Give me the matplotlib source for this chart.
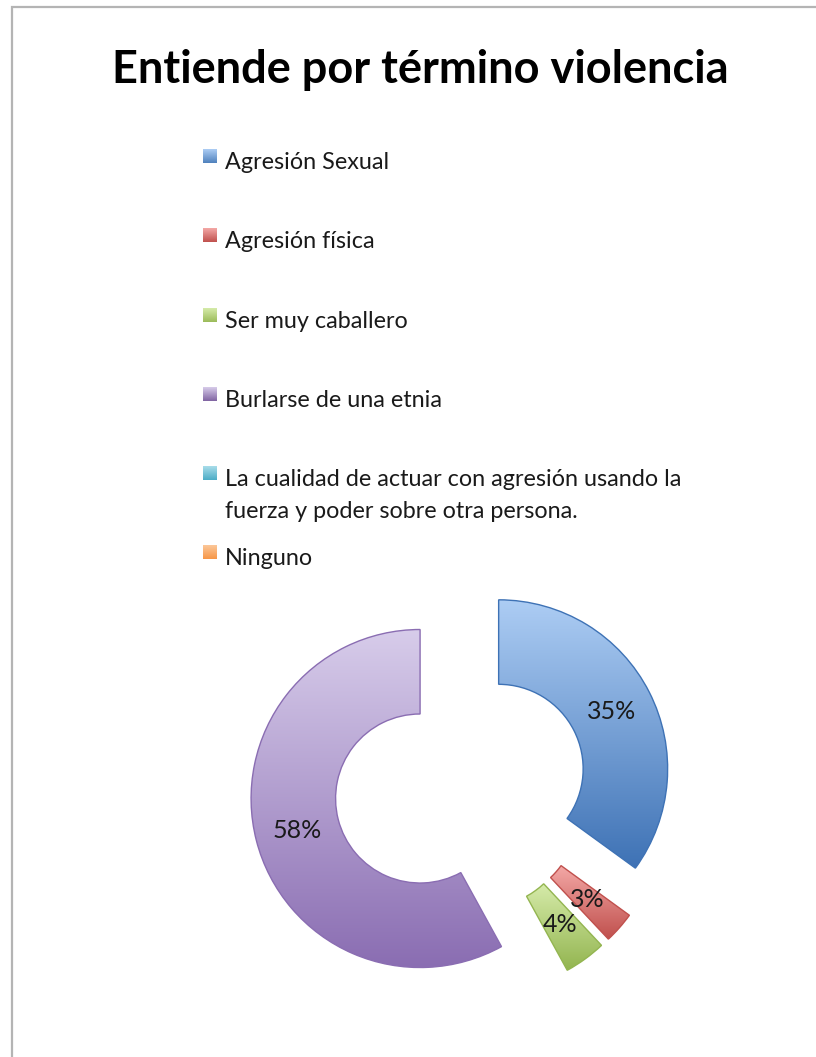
import numpy as np
import matplotlib
matplotlib.use("Agg")
import matplotlib.pyplot as plt
from matplotlib.colors import to_rgb
from matplotlib.patches import Rectangle

plt.rcParams['font.family'] = ['Lato', 'DejaVu Sans']

title = 'Entiende por término violencia'
labels = ['Agresión Sexual', 'Agresión física', 'Ser muy caballero',
          'Burlarse de una etnia',
          'La cualidad de actuar con agresión usando la\nfuerza y poder sobre otra persona.',
          'Ninguno']
values = [35, 3, 4, 58, 0, 0]
base_colors = ['#4F81BD', '#C0504D', '#9BBB59', '#8064A2', '#4BACC6', '#F79646']
light_colors = ['#ADCDF4', '#F4A9A7', '#D6EBAA', '#D7CCEA', '#A9DDEA', '#FCCB9F']
dark_colors = ['#3E72B5', '#C0504D', '#93B550', '#8A6DB2', '#3C9DB8', '#E8863A']

W, H = 816, 1057
fig = plt.figure(figsize=(W / 100, H / 100), dpi=100)

# chart area border (only top/left visible)
fig.add_artist(Rectangle((12 / W, -0.1), 1.2, 1 - 7 / H + 0.1, transform=fig.transFigure,
                         fill=False, edgecolor='#B4B4B4', linewidth=1.6))

fig.text(420 / W, 1 - 70 / H, title, ha='center', va='center',
         fontsize=32.5, fontweight='bold', color='black')


def gradient(dark, light, n=100):
    c0, c1 = np.array(to_rgb(dark)), np.array(to_rgb(light))
    t = np.linspace(0, 1, n)[:, None]
    return (c0 * (1 - t) + c1 * t)[:, None, :]


# legend
baselines = [169, 248, 328, 407, 486, 565]
for lab, col, lt, bl in zip(labels, base_colors, light_colors, baselines):
    for j, line in enumerate(lab.split('\n')):
        fig.text(225 / W, 1 - (bl + 32 * j) / H, line, ha='left', va='baseline',
                 fontsize=16.8, color='#1a1a1a')
    mk = fig.add_axes([203 / W, 1 - (bl - 6) / H, 14 / W, 14 / H])
    mk.imshow(gradient(col, lt), origin='lower', aspect='auto',
              extent=(0, 1, 0, 1), interpolation='bilinear')
    mk.axis('off')

# doughnut
R = 169
cx, cy = 461, 788
half = 1.5 * R
ax = fig.add_axes([(cx - half) / W, (H - cy - half) / H, 2 * half / W, 2 * half / H])
ax.set_xlim(-1.5, 1.5)
ax.set_ylim(-1.5, 1.5)
ax.set_aspect('equal')
ax.axis('off')

wedges, texts, autotexts = ax.pie(
    values, startangle=90, counterclock=False, explode=[0.25] * len(values),
    autopct=lambda p: f'{p:.0f}%' if p > 0.5 else '', pctdistance=0.75,
    radius=1.0, wedgeprops=dict(width=0.5, facecolor='none', linewidth=1.0),
    textprops=dict(fontsize=18, color='#1a1a1a'))

for w, v, lt, dk in zip(wedges, values, light_colors, dark_colors):
    w.set_edgecolor(dk)
    w.set_zorder(3)
    if v == 0:
        w.set_visible(False)
        continue
    x0, y0, x1, y1 = w.get_path().get_extents().extents
    im = ax.imshow(gradient(dk, lt, 200), extent=(x0, x1, y0, y1), origin='lower',
                   aspect='auto', zorder=2, interpolation='bilinear')
    im.set_clip_path(w)

for t in autotexts:
    t.set_zorder(4)

ax.set_xlim(-1.5, 1.5)
ax.set_ylim(-1.5, 1.5)

fig.savefig('out.png', dpi=100)
